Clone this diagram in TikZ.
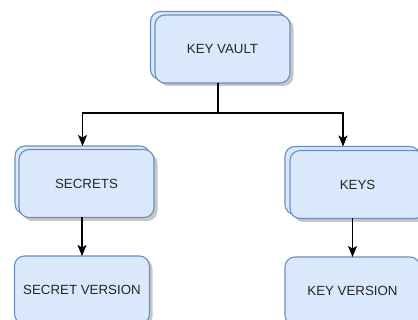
\documentclass[tikz,border=0pt]{standalone}
\usepackage{fontspec}
\setmainfont{Liberation Sans}
\usetikzlibrary{arrows.meta,calc}
\definecolor{boxfill}{HTML}{DAE8FC}
\definecolor{boxline}{HTML}{6C8EBF}
\tikzset{
  box/.style={draw=boxline,fill=boxfill,line width=1.1pt,rounded corners=10pt,
    minimum width=135pt,minimum height=68pt,inner sep=0pt,outer sep=0pt,
    font=\fontsize{13.3}{15}\selectfont,text=black!85},
  backbox/.style={box},
  shadowbox/.style={fill=black!22,draw=none,rounded corners=10pt,
    minimum width=135pt,minimum height=68pt,inner sep=0pt,outer sep=0pt},
  conn/.style={line width=1.1pt,draw=black},
  arr/.style={conn,-{Stealth[length=11pt,width=9pt,inset=2.5pt]}}
}
\begin{document}
\begin{tikzpicture}[x=1pt,y=1pt]
\useasboundingbox (0,0) rectangle (418,-320);
\clip (0,0) rectangle (418,-320);
% shadows
\node[shadowbox] at (226,-52) {};
\node[shadowbox] at (90,-187) {};
\node[shadowbox] at (361,-188) {};
\node[shadowbox] at (85,-293) {};
\node[shadowbox] at (356,-294) {};
% KEY VAULT
\node[backbox] (kvb) at (218,-45.5) {};
\node[box] (kv) at (222.5,-49) {KEY VAULT};
% SECRETS
\node[backbox] (secb) at (82.5,-180) {};
\node[box] (sec) at (86.5,-183.5) {SECRETS};
% KEYS
\node[backbox] (keysb) at (352.5,-180.5) {};
\node[box] (keys) at (357.5,-184.5) {KEYS};
% versions
\node[box] (secv) at (82,-290) {SECRET VERSION};
\node[box] (keyv) at (352.5,-291) {KEY VERSION};
% connectors
\coordinate (kvout) at ($(kv.south)+(-4.5,0)$);
\coordinate (keysin) at ($(keysb.north)+(-9.5,0)$);
\draw[arr] (kvout) |- ($(kvout)+(0,-30)$) -| (secb.north);
\draw[arr] ($(kvout)+(0,-30)$) -| (keysin);
\draw[arr] (secv.north |- sec.south) -- (secv.north);
\draw[arr] (keyv.north |- keys.south) -- (keyv.north);
\end{tikzpicture}
\end{document}
